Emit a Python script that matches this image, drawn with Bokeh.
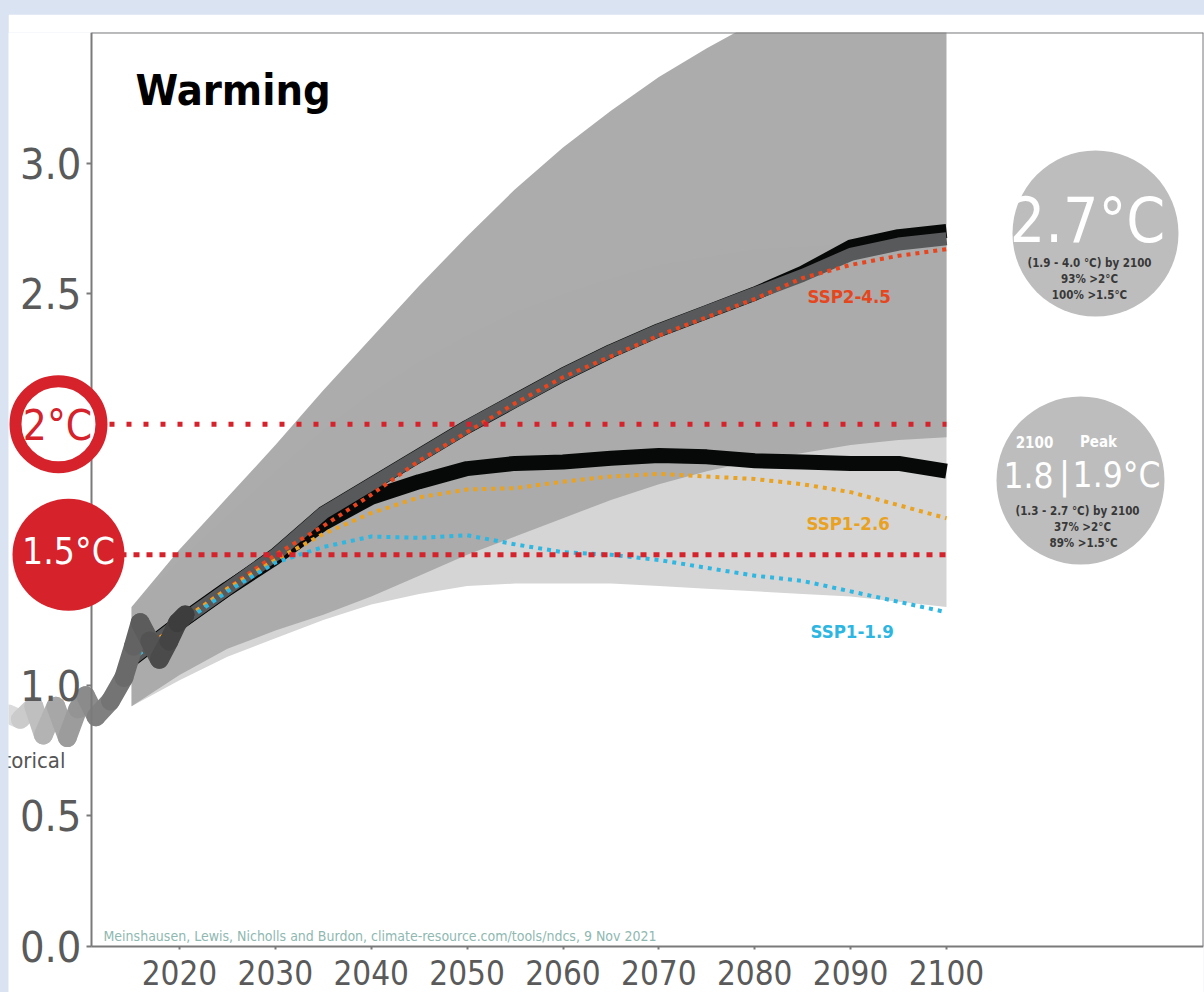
from bokeh.plotting import figure
from bokeh.models import Range1d, LinearAxis, FixedTicker
from bokeh.core.properties import value
from bokeh.embed import file_html
from bokeh.resources import INLINE

# ---------------- data ----------------
hist_years = [2002.2, 2003.4, 2004.8, 2005.8, 2007.1, 2008.3, 2009.4, 2010.2, 2011.3,
              2012.8, 2014.2, 2015.2, 2015.9, 2016.9, 2017.9, 2018.9, 2019.8, 2020.6]
hist_vals = [0.89, 0.87, 0.92, 0.81, 0.92, 0.80, 0.91, 0.96, 0.88,
             0.94, 1.03, 1.15, 1.24, 1.17, 1.10, 1.17, 1.24, 1.27]

years = [2015, 2020, 2025, 2030, 2035, 2040, 2045, 2050, 2055,
         2060, 2065, 2070, 2075, 2080, 2085, 2090, 2095, 2100]

# uncertainty range of the 2.7 °C pathway (1.9 - 4.0 °C by 2100)
high_upper = [1.30, 1.52, 1.72, 1.92, 2.13, 2.33, 2.53, 2.72, 2.90,
              3.06, 3.20, 3.33, 3.44, 3.54, 3.65, 3.76, 3.88, 4.00]
high_lower = [0.92, 1.04, 1.14, 1.21, 1.27, 1.34, 1.42, 1.50, 1.57,
              1.64, 1.71, 1.77, 1.82, 1.86, 1.89, 1.92, 1.94, 1.95]
# uncertainty range of the 1.8 °C pathway (1.3 - 2.7 °C by 2100)
low_upper = [1.30, 1.48, 1.65, 1.82, 1.98, 2.12, 2.24, 2.34, 2.43,
             2.50, 2.56, 2.61, 2.64, 2.67, 2.68, 2.69, 2.70, 2.70]
low_lower = [0.92, 1.02, 1.11, 1.18, 1.25, 1.31, 1.35, 1.38, 1.39,
             1.39, 1.39, 1.38, 1.37, 1.36, 1.35, 1.34, 1.32, 1.30]

# central pathways
ndc_low = [1.10, 1.24, 1.37, 1.49, 1.62, 1.72, 1.78, 1.83, 1.85,
           1.855, 1.87, 1.88, 1.875, 1.86, 1.855, 1.85, 1.85, 1.82]
ndc_high_black = [1.10, 1.24, 1.37, 1.50, 1.66, 1.77, 1.88, 1.99, 2.09,
                  2.19, 2.28, 2.36, 2.43, 2.50, 2.58, 2.68, 2.72, 2.74]
ndc_high = [1.10, 1.24, 1.37, 1.50, 1.66, 1.77, 1.88, 1.99, 2.09,
            2.19, 2.28, 2.36, 2.43, 2.50, 2.57, 2.65, 2.69, 2.71]

# SSP scenarios
ssp245 = [1.10, 1.24, 1.37, 1.50, 1.61, 1.73, 1.86, 1.97, 2.08,
          2.18, 2.26, 2.34, 2.41, 2.48, 2.56, 2.61, 2.645, 2.67]
ssp126 = [1.10, 1.24, 1.37, 1.48, 1.58, 1.66, 1.72, 1.75, 1.755,
          1.78, 1.80, 1.81, 1.80, 1.79, 1.77, 1.74, 1.69, 1.64]
ssp119 = [1.10, 1.23, 1.36, 1.47, 1.53, 1.57, 1.565, 1.575, 1.54,
          1.51, 1.50, 1.48, 1.45, 1.42, 1.40, 1.36, 1.32, 1.28]

thresholds = [2.0, 1.5]
threshold_labels = ["2°C", "1.5°C"]

x_ticks = [2020, 2030, 2040, 2050, 2060, 2070, 2080, 2090, 2100]
y_ticks = [0.0, 0.5, 1.0, 2.5, 3.0]
y_tick_labels = ["0.0", "0.5", "1.0", "2.5", "3.0"]

# ---------------- layout helpers ----------------
FONT = "DejaVu Sans Condensed"
X0, X1 = 2002.164, 2126.806
PX_PER_YR = 9.5875
PX_PER_DEG = 261.14
AXIS_X = 2010.82
Y_BOTTOM = -(992 - 946) / PX_PER_DEG


def X(px):
    return X0 + (px - 8) / PX_PER_YR


def Y(py):
    return (946 - py) / PX_PER_DEG


p = figure(width=1196, height=978, x_range=Range1d(X0, X1), y_range=Range1d(Y_BOTTOM, 3.5),
           output_backend="svg", toolbar_location=None,
           x_axis_location=None, y_axis_location=None,
           min_border_left=0, min_border_right=1, min_border_top=18, min_border_bottom=0,
           background_fill_color="white", border_fill_color="white",
           outline_line_color=None)
p.grid.visible = False

AX_COL = "#7a7a7a"
LBL_COL = "#5a5a5a"

yaxis = LinearAxis(fixed_location=AXIS_X, bounds=(0, 3.5),
                   ticker=FixedTicker(ticks=y_ticks),
                   major_label_overrides={t: l for t, l in zip(y_ticks, y_tick_labels)},
                   axis_line_color=AX_COL, axis_line_width=2,
                   major_tick_in=0, major_tick_out=5, major_tick_line_color=AX_COL,
                   major_tick_line_width=2,
                   minor_tick_in=0, minor_tick_out=0,
                   major_label_text_font=FONT, major_label_text_font_size="43px",
                   major_label_text_color=LBL_COL, major_label_standoff=5)
p.add_layout(yaxis, "left")

xaxis = LinearAxis(fixed_location=0, bounds=(AXIS_X, X1),
                   ticker=FixedTicker(ticks=x_ticks),
                   axis_line_color=AX_COL, axis_line_width=2,
                   major_tick_in=0, major_tick_out=3, major_tick_line_color=AX_COL,
                   major_tick_line_width=2,
                   minor_tick_in=0, minor_tick_out=0,
                   major_label_text_font=FONT, major_label_text_font_size="33px",
                   major_label_text_color=LBL_COL, major_label_standoff=11)
p.add_layout(xaxis, "below")

topaxis = LinearAxis(fixed_location=3.5, bounds=(AXIS_X, X1), ticker=FixedTicker(ticks=[]),
                     axis_line_color=AX_COL, axis_line_width=2,
                     major_tick_in=0, major_tick_out=0, minor_tick_in=0, minor_tick_out=0,
                     major_label_text_font_size="0px")
p.add_layout(topaxis, "above")

rightaxis = LinearAxis(fixed_location=X1, bounds=(0, 3.5), ticker=FixedTicker(ticks=[]),
                       axis_line_color=AX_COL, axis_line_width=2,
                       major_tick_in=0, major_tick_out=0, minor_tick_in=0, minor_tick_out=0,
                       major_label_text_font_size="0px")
p.add_layout(rightaxis, "right")

# ---------------- bands ----------------
p.varea(x=years, y1=low_lower, y2=low_upper, fill_color="#d5d5d5")
p.varea(x=years, y1=high_lower, y2=high_upper, fill_color="#a8a9a8", fill_alpha=0.96)

# ---------------- pathways ----------------
p.line(years, ndc_low, line_color="#070909", line_width=15, line_join="round")
p.line(years, ndc_high_black, line_color="#070909", line_width=14, line_join="round")
p.line(years, ndc_high, line_color="#58595a", line_width=13, line_join="round")

p.line(years, ssp245, line_color="#e8441d", line_width=4, line_dash="4 5")
p.line(years, ssp126, line_color="#eaa222", line_width=4, line_dash="4 5")
p.line(years, ssp119, line_color="#2db7e2", line_width=4, line_dash="4 5")

# threshold lines
RED = "#d5222b"
p.line([X(58), 2100], [thresholds[0]] * 2, line_color=RED, line_width=5, line_dash="5 12")
p.line([X(68), 2100], [thresholds[1]] * 2, line_color=RED, line_width=5, line_dash="6 7")

# ---------------- historical (gradient) ----------------
seg_x0, seg_y0, seg_x1, seg_y1, seg_col = [], [], [], [], []
n = len(hist_years) - 1
for i in range(n):
    t = (0.5 * (hist_years[i] + hist_years[i + 1]) - hist_years[0]) / (hist_years[-1] - hist_years[0])
    g = int(round(228 - (228 - 58) * (t ** 0.85)))
    seg_x0.append(hist_years[i]); seg_y0.append(hist_vals[i])
    seg_x1.append(hist_years[i + 1]); seg_y1.append(hist_vals[i + 1])
    seg_col.append("#%02x%02x%02x" % (g, g, g))
p.segment(x0=seg_x0, y0=seg_y0, x1=seg_x1, y1=seg_y1, line_color=seg_col,
          line_width=19, line_cap="round")

BASE_SHIFT = 0.37  # svg text is drawn about 0.37 em below the requested baseline


def txt(px, py, s, size, color, bold=False, align="center", level="overlay"):
    r = p.text(x=[X(px)], y=[Y(py - BASE_SHIFT * size)], text=[s], text_font=value(FONT),
               text_font_size=f"{size}px",
               text_font_style="bold" if bold else "normal",
               text_color=color, text_align=align, text_baseline="alphabetic")
    r.level = level
    return r


# ---------------- threshold markers ----------------
ring = p.scatter(x=[X(58)], y=[thresholds[0]], marker="circle", size=86,
                 fill_color="white", line_color=RED, line_width=12)
ring.level = "overlay"
disk = p.scatter(x=[X(68)], y=[thresholds[1]], marker="circle", size=112,
                 fill_color=RED, line_color=None)
disk.level = "overlay"
txt(57, 441, threshold_labels[0], 42, RED)
txt(68, 565, threshold_labels[1], 37, "white")

# ---------------- result circles ----------------
CGRAY = "#bdbdbd"
c1 = p.scatter(x=[X(1095)], y=[Y(233)], marker="circle", size=166, fill_color=CGRAY, line_color=None)
c1.level = "overlay"
c2 = p.scatter(x=[X(1080)], y=[Y(480)], marker="circle", size=168, fill_color=CGRAY, line_color=None)
c2.level = "overlay"

DK = "#383838"
txt(1087, 243, "2.7°C", 62, "white")
txt(1089, 267, "(1.9 - 4.0 °C) by 2100", 11.5, DK, bold=True)
txt(1089, 283, "93% >2°C", 11.5, DK, bold=True)
txt(1089, 299, "100% >1.5°C", 11.5, DK, bold=True)

txt(1034, 447, "2100", 15, "white", bold=True)
txt(1098, 447, "Peak", 15, "white", bold=True)
txt(1028, 487, "1.8", 35, "white")
txt(1064, 489, "|", 38, "white")
txt(1116, 487, "1.9°C", 35, "white")
txt(1077, 515, "(1.3 - 2.7 °C) by 2100", 11.5, DK, bold=True)
txt(1082, 531, "37% >2°C", 11.5, DK, bold=True)
txt(1083, 547, "89% >1.5°C", 11.5, DK, bold=True)

# ---------------- labels ----------------
txt(135, 105, "Warming", 43, "black", bold=True, align="left", level="glyph")
txt(807, 303, "SSP2-4.5", 18.5, "#e5461e", bold=True, align="left", level="glyph")
txt(806, 530, "SSP1-2.6", 18.5, "#e9a121", bold=True, align="left", level="glyph")
txt(810, 638, "SSP1-1.9", 18.5, "#2db6e2", bold=True, align="left", level="glyph")
txt(65, 768, "historical", 22, "#555555", align="right", level="glyph")
txt(103, 941, "Meinshausen, Lewis, Nicholls and Burdon, climate-resource.com/tools/ndcs, 9 Nov 2021",
    14, "#8fb8b1", align="left", level="glyph")

html = file_html(p, INLINE)
css = ("<style>html,body{margin:0;padding:0;overflow:hidden;background:#dae3f2;}"
       "body{padding:14px 0 0 8px;}</style></head>")
html = html.replace("</head>", css, 1)
open("out.html", "w").write(html)
